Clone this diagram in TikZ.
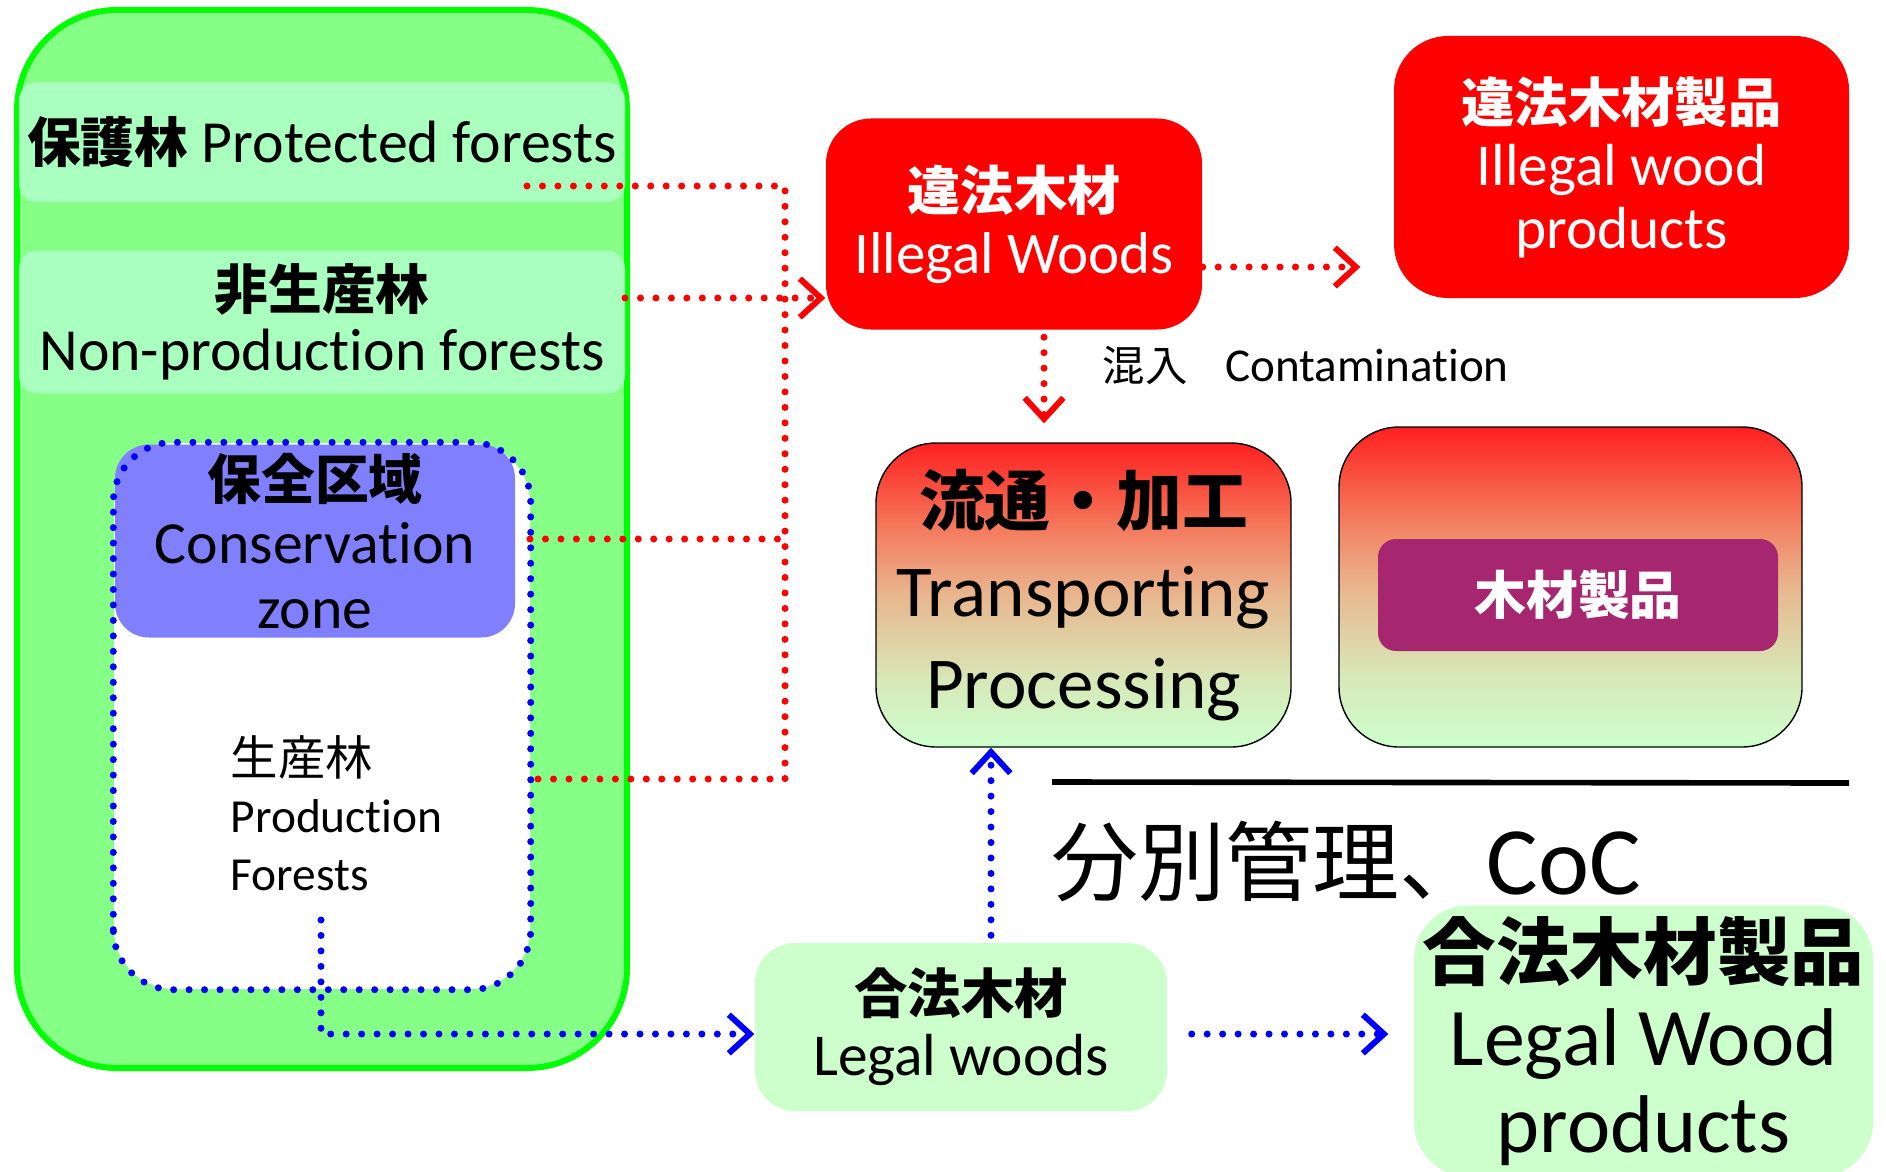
\documentclass[tikz,border=0pt]{standalone}
\usepackage{fontspec}
\setmainfont[Ligatures=NoCommon]{Carlito}
\newfontfamily\jp[Scale=0.9]{Noto Sans CJK JP}
\usepackage{xcolor}
\usetikzlibrary{arrows.meta,positioning}

\definecolor{areaborder}{HTML}{00FF00}
\definecolor{areafill}{HTML}{85FF85}
\definecolor{bandfill}{HTML}{A8FFBE}
\definecolor{zonefill}{HTML}{8080FF}
\definecolor{palegreen}{HTML}{CCFFCC}
\definecolor{goodspurple}{HTML}{A62670}
\definecolor{flowtop}{HTML}{FF2020}
\definecolor{flowhigh}{HTML}{F47A5C}
\definecolor{flowmid}{HTML}{E8B68E}
\definecolor{flowlow}{HTML}{D8E8B8}
\pgfdeclareverticalshading{flow}{100bp}{color(0bp)=(palegreen); color(25bp)=(palegreen);
  color(36bp)=(flowlow); color(50bp)=(flowmid); color(61bp)=(flowhigh);
  color(75bp)=(flowtop); color(100bp)=(flowtop)}

\begin{document}
\begin{tikzpicture}[
  band/.style={fill=bandfill, rounded corners=0.18cm, minimum width=6.06cm,
    align=center, inner sep=0pt, font=\fontsize{17}{17.4}\selectfont},
  illegal/.style={fill=red, rounded corners=0.45cm, text=white, align=center,
    inner sep=0pt, font=\fontsize{16.8}{18}\selectfont},
  stage/.style={draw, thin, shade, shading=flow, rounded corners=0.6cm, inner sep=0pt},
  legal/.style={fill=palegreen, rounded corners=0.4cm, align=center, inner sep=0pt},
  redline/.style={red, line width=2pt, dash pattern=on 0pt off 4.4pt, line cap=round},
  blueline/.style={blue, line width=2pt, dash pattern=on 0pt off 4.4pt, line cap=round},
  >={Straight Barb[length=6pt,width=11pt,line width=1.7pt]}
]
\useasboundingbox (0,0) rectangle (18.86,11.71);
\clip (0,0) rectangle (18.86,11.71);

% forests
\node[fill=areafill, draw=areaborder, line width=1.7pt, rounded corners=1cm,
  minimum width=6.10cm, minimum height=10.58cm] (area) at (3.22,6.32) {};
\node[band, minimum height=1.20cm] (prot) at (3.22,10.29)
  {{\jp\bfseries 保護林} Protected forests};
\node[band, minimum height=1.43cm] (nonprod) at (3.22,8.49)
  {{\jp\bfseries 非生産林}\\Non-production forests};
\node[fill=white, rounded corners=0.6cm, minimum width=4.16cm,
  minimum height=5.46cm] (prod) at (3.22,4.55) {};
\node[fill=zonefill, rounded corners=0.34cm, minimum width=4.00cm,
  minimum height=1.93cm, align=center, inner sep=0pt,
  font=\fontsize{17}{18.3}\selectfont] (cons) at (3.15,6.30)
  {{\jp\bfseries 保全区域}\\Conservation\\zone};
\draw[blueline, rounded corners=0.6cm] (prod.south west) rectangle (prod.north east);
\node[anchor=west, align=left, inner sep=0pt,
  font=\fontsize{13.5}{16.4}\selectfont] (prodtxt) at (2.30,3.58)
  {{\jp\fontsize{15}{16.4}\selectfont 生産林}\\Production\\Forests};

% illegal side
\node[illegal, minimum width=3.76cm, minimum height=2.11cm] (ill) at (10.14,9.47)
  {{\jp\bfseries 違法木材}\\Illegal Woods};
\node[illegal, rounded corners=0.54cm, minimum width=4.55cm, minimum height=2.62cm,
  font=\fontsize{16.9}{17.9}\selectfont] (illp) at (16.215,10.04)
  {{\jp\bfseries 違法木材製品}\\Illegal wood\\products};

% processing
\node[stage, minimum width=4.15cm, minimum height=3.04cm, align=center,
  font=\fontsize{20.8}{26}\selectfont] (trans) at (10.835,5.76)
  {{\jp\bfseries 流通・加工}\\Transporting\\Processing};
\node[stage, minimum width=4.63cm, minimum height=3.20cm] (goods) at (15.705,5.84) {};
\node[fill=goodspurple, rounded corners=0.18cm, minimum width=4.00cm,
  minimum height=1.12cm, text=white, inner sep=0pt,
  font=\jp\bfseries\fontsize{16.4}{18}\selectfont] (goodsin) at (15.78,5.76) {木材製品};

\coordinate (sepL) at (10.52,3.89);
\coordinate (sepR) at (18.49,3.88);
\draw[line width=1.6pt] (sepL) -- (sepR);
\node[anchor=west, inner sep=0pt, font=\fontsize{27.5}{30}\selectfont] (coc)
  at (10.51,3.10) {{\jp 分別管理、}CoC};

% legal side
\node[legal, minimum width=4.12cm, minimum height=1.68cm,
  font=\fontsize{16.9}{17.7}\selectfont] (lw) at (9.61,1.44)
  {{\jp\bfseries 合法木材}\\Legal woods};
\node[legal, rounded corners=0.54cm, minimum width=4.59cm, minimum height=2.71cm,
  font=\fontsize{23.3}{24.6}\selectfont] (lwp) at (16.435,1.30)
  {{\jp\bfseries 合法木材製品}\\Legal Wood\\products};

% red flows
\coordinate (protOut) at (5.27,9.85);
\coordinate (busT) at (7.85,9.85);
\coordinate (busB) at (7.85,3.92);
\coordinate (consOut) at (5.30,6.32);
\coordinate (prodOut) at (5.30,3.92);
\coordinate (npOut) at (6.25,8.73);
\draw[redline] (protOut) -- (busT) -- (busB) -- (prodOut);
\draw[redline] (consOut) -- (consOut -| busT);
\draw[redline,->] (npOut) -- (ill.west |- npOut);
\draw[redline,->,shorten >=0.33cm] ([yshift=-0.43cm]ill.east) -- ([yshift=-0.43cm]ill.east -| illp.west);
\draw[redline,->,shorten <=0.07cm,shorten >=0.19cm] ([xshift=0.3cm]ill.south) -- ([xshift=0.3cm]ill.south |- trans.north);
\node[anchor=west, inner sep=0pt, font=\fontsize{13.4}{15}\selectfont] (contam)
  at (11.02,8.05) {{\jp 混入}\hspace{0.8em}Contamination};

% blue flows
\coordinate (prodStart) at (3.21,2.51);
\draw[blueline,->] (prodStart) |- ([yshift=-0.07cm]lw.west);
\draw[blueline,->,shorten <=0.07cm] ([xshift=0.3cm]lw.north) -- ([xshift=0.3cm]lw.north |- trans.south);
\draw[blueline,->,shorten <=0.24cm,shorten >=0.25cm] ([yshift=-0.07cm]lw.east) -- ([yshift=-0.07cm]lw.east -| lwp.west);
\end{tikzpicture}
\end{document}
